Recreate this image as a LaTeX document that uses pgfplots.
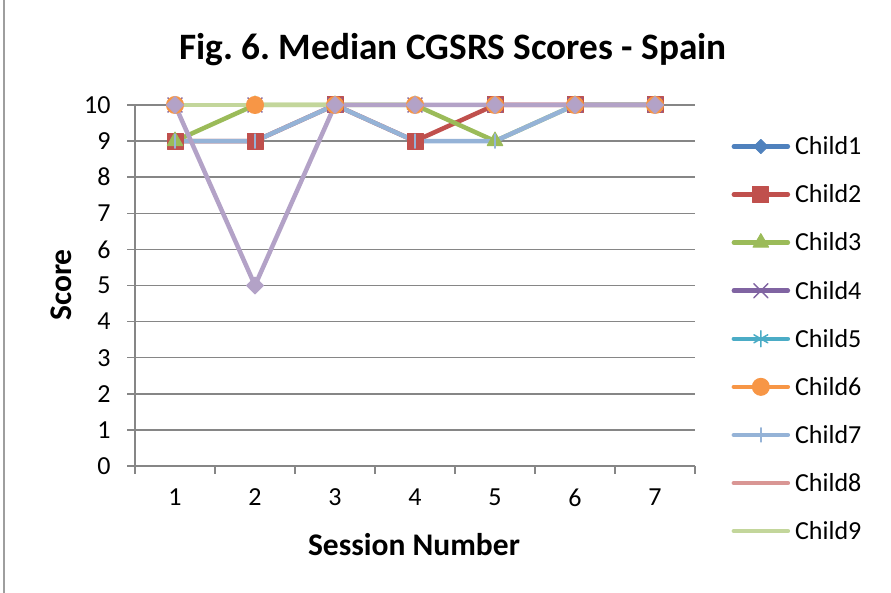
\documentclass[border=0pt]{standalone}
\usepackage{pgfplots}
\pgfplotsset{compat=1.18}
\usepackage{fontspec}
\setmainfont{Carlito}
\frenchspacing
\definecolor{c1}{HTML}{4F81BD}
\definecolor{c2}{HTML}{C0504D}
\definecolor{c3}{HTML}{9BBB59}
\definecolor{c4}{HTML}{8064A2}
\definecolor{c5}{HTML}{4BACC6}
\definecolor{c6}{HTML}{F79646}
\definecolor{c7}{HTML}{95B3D7}
\definecolor{c8}{HTML}{D99694}
\definecolor{c9}{HTML}{C3D69B}
\definecolor{c10}{HTML}{B3A2C7}
\definecolor{axgray}{HTML}{868686}
\begin{document}
\begin{tikzpicture}[x=1pt,y=1pt]
\useasboundingbox (0,0) rectangle (891,593);
\draw[axgray!80, line width=1.2pt] (4,0) -- (4,593);
\begin{axis}[
  at={(135pt,127pt)}, anchor=south west,
  scale only axis, width=560pt, height=361pt,
  xmin=0.5, xmax=7.5, ymin=0, ymax=10,
  clip=false,
  axis lines=left,
  axis line style={-, draw=axgray, line width=1.5pt},
  xtick={1,2,3,4,5,6,7},
  ytick={0,1,2,3,4,5,6,7,8,9,10},
  minor xtick={0.5,1.5,2.5,3.5,4.5,5.5,6.5,7.5},
  tick align=outside,
  major tick length=8pt, minor tick length=8pt,
  xtick style={draw=none},
  minor x tick style={draw=axgray, line width=1.5pt},
  ytick style={draw=axgray, line width=1.5pt},
  ymajorgrids=true,
  major grid style={draw=axgray, line width=1.5pt},
  /pgf/number format/assume math mode=true,
  ticklabel style={font=\fontsize{26}{30}\selectfont},
  xticklabel style={yshift=-11pt},
  yticklabel style={xshift=-13pt},
  every axis plot/.append style={line width=4.5pt, line cap=round, line join=round},
  legend style={draw=none, fill=none, at={(1.065,0.918)}, anchor=north west,
    font=\fontsize{26}{30}\selectfont, row sep=24.5pt, inner sep=0pt,
    nodes={inner sep=2pt}},
  legend cell align=left,
  legend image code/.code={\draw[mark repeat=2,mark phase=2] plot coordinates {(0pt,0pt)(27pt,0pt)(54pt,0pt)};},
]
\addplot[c1, mark=square*, mark size=5pt, mark options={solid, rotate=45, fill=c1, line width=1pt}]
  coordinates {(1,10)(2,10)(3,10)(4,10)(5,10)(6,10)(7,10)};
\addlegendentry{\hspace{3pt}Child1}
\addplot[c2, mark=square*, mark size=8pt, mark options={solid, fill=c2, line width=1pt}]
  coordinates {(1,9)(2,9)(3,10)(4,9)(5,10)(6,10)(7,10)};
\addlegendentry{\hspace{3pt}Child2}
\addplot[c3, mark=triangle*, mark size=9pt, mark options={solid, fill=c3, line width=1pt}]
  coordinates {(1,9)(2,10)(3,10)(4,10)(5,9)(6,10)(7,10)};
\addlegendentry{\hspace{3pt}Child3}
\addplot[c4, mark=x, mark size=10pt, mark options={solid, line width=1.5pt}]
  coordinates {(1,10)(2,10)(3,10)(4,10)(5,10)(6,10)(7,10)};
\addlegendentry{\hspace{3pt}Child4}
\addplot[c5, mark=asterisk, mark size=8pt, mark options={solid, line width=1.5pt}]
  coordinates {(1,10)(2,10)(3,10)(4,10)(5,10)(6,10)(7,10)};
\addlegendentry{\hspace{3pt}Child5}
\addplot[c6, mark=*, mark size=8.5pt, mark options={solid, fill=c6, line width=1pt}]
  coordinates {(1,10)(2,10)(3,10)(4,10)(5,10)(6,10)(7,10)};
\addlegendentry{\hspace{3pt}Child6}
\addplot[c7, mark=|, mark size=7pt, mark options={solid, line width=1.5pt}]
  coordinates {(1,9)(2,9)(3,10)(4,9)(5,9)(6,10)(7,10)};
\addlegendentry{\hspace{3pt}Child7}
\addplot[c8, no markers]
  coordinates {(1,10)(2,10)(3,10)(4,10)(5,10)(6,10)(7,10)};
\addlegendentry{\hspace{3pt}Child8}
\addplot[c9, no markers]
  coordinates {(1,10)(2,10)(3,10)(4,10)(5,10)(6,10)(7,10)};
\addlegendentry{\hspace{3pt}Child9}
\addplot[c10, mark=square*, mark size=6pt, mark options={solid, rotate=45, fill=c10, line width=1pt}, forget plot]
  coordinates {(1,10)(2,5)(3,10)(4,10)(5,10)(6,10)(7,10)};
\end{axis}
\node[font=\fontsize{37.3}{42}\selectfont\bfseries] at (453,543) {Fig. 6. Median CGSRS Scores - Spain};
\node[font=\fontsize{31.5}{36}\selectfont\bfseries] at (414,48) {Session Number};
\node[font=\fontsize{31.5}{36}\selectfont\bfseries, rotate=90] at (61,308) {Score};
\end{tikzpicture}
\end{document}
